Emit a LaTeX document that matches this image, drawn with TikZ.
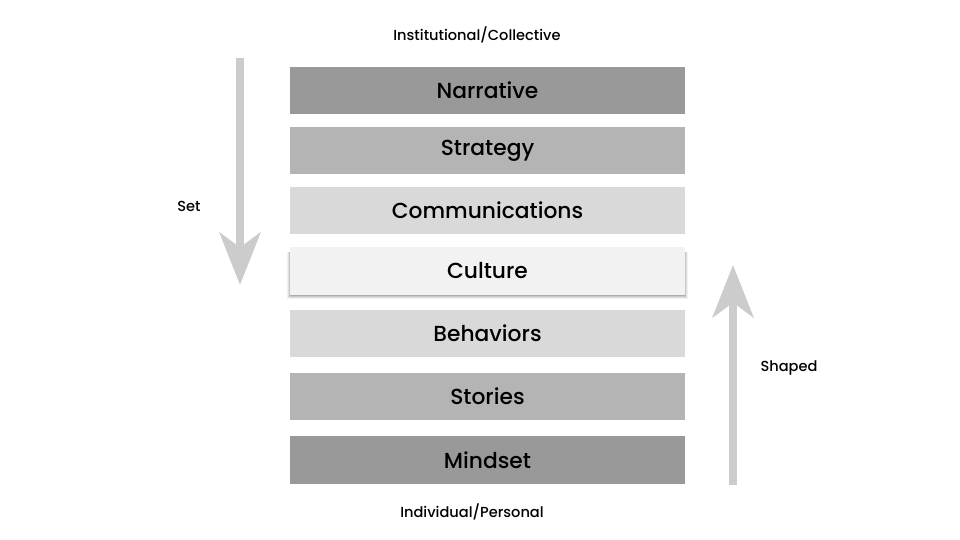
\documentclass[tikz,border=0pt]{standalone}
\usepackage{fontspec}
\setmainfont{Poppins}[UprightFont=* Medium, BoldFont=* SemiBold]
\usepackage{xcolor}
\usetikzlibrary{arrows.meta, positioning}

\definecolor{layerdark}{HTML}{999999}
\definecolor{layermid}{HTML}{B4B4B4}
\definecolor{layerlight}{HTML}{D9D9D9}
\definecolor{layercore}{HTML}{F2F2F2}
\definecolor{flowgray}{HTML}{CCCCCC}

\begin{document}
\begin{tikzpicture}[x=0.02cm, y=-0.02cm,
    layer/.style={rectangle, minimum width=7.9cm, minimum height=0.95cm, inner sep=0pt, font=\fontsize{12.4}{14}\selectfont},
    sidelabel/.style={font=\fontsize{8.3}{10}\selectfont, inner sep=0pt},
    flow/.style={draw=flowgray, line width=0.16cm, -{Stealth[length=1.05cm, width=0.82cm, inset=0.3cm]}}]
  \useasboundingbox (0,0) rectangle (960,540);
  % Stack of layers, top to bottom
  \node[layer, fill=layerdark]  (narrative) at (487.5, 90.5)  {Narrative};
  \node[layer, fill=layermid]   (strategy)  at (487.5, 150.5) {Strategy};
  \node[layer, fill=layerlight] (comms)     at (487.5, 210.5) {Communications};
  % Soft shadow under the middle layer
  \foreach \grow/\op in {3/0.05, 2/0.08, 1/0.1, 0/0.14}
    \fill[black, opacity=\op] (290-\grow, 252) rectangle (685+\grow, 296.5+\grow);
  \node[layer, fill=layercore]  (culture)   at (487.5, 271)   {Culture};
  \node[layer, fill=layerlight] (behaviors) at (487.5, 333.5) {Behaviors};
  \node[layer, fill=layermid]   (stories)   at (487.5, 396.5) {Stories};
  \node[layer, fill=layerdark]  (mindset)   at (487.5, 460)   {Mindset};
  % End labels
  \node[sidelabel] (institutional) at (477, 35)  {Institutional/Collective};
  \node[sidelabel] (individual)    at (472, 512) {Individual/Personal};
  % Downward arrow (set)
  \coordinate (setstart) at (240, 58);
  \coordinate (setend)   at (240, 285);
  \draw[flow] (setstart) -- (setend);
  \node[sidelabel] (setlabel) at (189, 206) {Set};
  % Upward arrow (shaped)
  \coordinate (shapedstart) at (733, 485);
  \coordinate (shapedend)   at (733, 265);
  \draw[flow] (shapedstart) -- (shapedend);
  \node[sidelabel] (shapedlabel) at (789, 368) {Shaped};
\end{tikzpicture}
\end{document}
